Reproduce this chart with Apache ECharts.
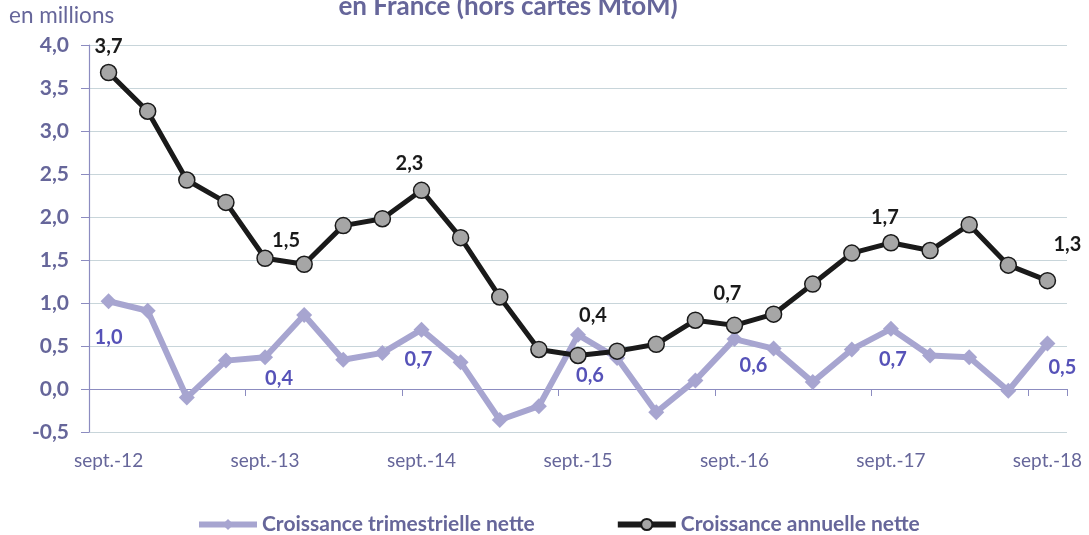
<!DOCTYPE html>
<html>
<head>
<meta charset="utf-8">
<script src="https://cdn.jsdelivr.net/npm/echarts@6/dist/echarts.min.js"></script>
<style>html,body{margin:0;padding:0;background:#fff}#c{width:1089px;height:535px}</style>
</head>
<body>
<div id="c"></div>
<script>
const categories = ['sept.-12','déc.-12','mars-13','juin-13','sept.-13','déc.-13','mars-14','juin-14','sept.-14','déc.-14','mars-15','juin-15','sept.-15','déc.-15','mars-16','juin-16','sept.-16','déc.-16','mars-17','juin-17','sept.-17','déc.-17','mars-18','juin-18','sept.-18'];
const quarterly = [1.02,0.91,-0.10,0.33,0.37,0.86,0.34,0.42,0.69,0.31,-0.36,-0.20,0.63,0.36,-0.27,0.10,0.58,0.47,0.08,0.46,0.70,0.39,0.37,-0.02,0.53];
const annual = [3.68,3.23,2.43,2.17,1.52,1.45,1.90,1.98,2.31,1.76,1.07,0.46,0.39,0.44,0.52,0.80,0.74,0.87,1.22,1.58,1.70,1.61,1.91,1.44,1.26];
const yTicks = [-0.5,0,0.5,1,1.5,2,2.5,3,3.5,4];

// label placement (styling only)
const annualLabelOffsets = {0:[0,-26],4:[21,-18],8:[-12,-27],12:[15,-40],16:[-7,-32],20:[-6,-25],24:[20,-36]};
const quarterLabelOffsets = {0:[0,36],4:[14,21],8:[-3,30],12:[12,41],16:[19,26],20:[2,31],24:[15,24]};

const axisColor = '#66669a';
const FONT = 'Lato, "Open Sans", sans-serif';
const fmt = v => v.toFixed(1).replace('.', ',');

function buildData(values, offsets, color) {
  return values.map((v, i) => {
    if (offsets[i]) {
      return {value: v, label: {show: true, position: 'inside', offset: offsets[i],
        formatter: p => fmt(p.value), color: color, fontSize: 20, fontWeight: 'bold', fontFamily: FONT}};
    }
    return v;
  });
}

const chart = echarts.init(document.getElementById('c'), null, {renderer: 'canvas'});
chart.setOption({
  animation: false,
  grid: {left: 89, right: 22, top: 45, bottom: 103, containLabel: false},
  graphic: [
    {type: 'text', x: 9, y: 16, style: {text: 'en millions', fill: axisColor, font: '22.5px ' + FONT, textVerticalAlign: 'middle'}},
    {type: 'text', x: 508, y: 7, style: {text: 'en France (hors cartes MtoM)', fill: axisColor, font: 'bold 26px ' + FONT, textAlign: 'center', textVerticalAlign: 'middle'}}
  ],
  legend: {
    top: 509, left: 191, itemWidth: 58, itemHeight: 14, itemGap: 80,
    textStyle: {color: axisColor, fontSize: 21, fontWeight: 'bold', fontFamily: FONT},
    lineStyle: {width: 6},
    data: ['Croissance trimestrielle nette', 'Croissance annuelle nette']
  },
  xAxis: [
    {type: 'category', data: categories, boundaryGap: true, position: 'bottom',
      axisLine: {show: false, onZero: false}, axisTick: {show: false},
      axisLabel: {interval: 3, color: axisColor, fontSize: 19, fontFamily: FONT, margin: 19}},
    {type: 'category', data: categories, boundaryGap: true, position: 'top',
      axisLine: {show: true, onZero: true, lineStyle: {color: '#8c8cc0', width: 1.2}},
      axisTick: {show: true, interval: 3, inside: true, length: 7, lineStyle: {color: '#8c8cc0'}},
      axisLabel: {show: false}}
  ],
  yAxis: {
    type: 'value', min: -0.5, max: 4, interval: 0.5,
    axisLine: {show: true, lineStyle: {color: '#8c8cc0', width: 1.2}},
    axisTick: {show: true, length: 8, lineStyle: {color: '#8c8cc0'}},
    axisLabel: {color: axisColor, fontSize: 21, fontWeight: 'bold', fontFamily: FONT, margin: 20,
      formatter: v => yTicks.includes(v) ? fmt(v) : ''},
    splitLine: {show: true, lineStyle: {color: '#c8d5da', width: 1}}
  },
  series: [
    {name: 'Croissance trimestrielle nette', type: 'line', xAxisIndex: 0,
      data: buildData(quarterly, quarterLabelOffsets, '#5652b8'),
      symbol: 'diamond', symbolSize: 16,
      lineStyle: {color: '#a7a5d0', width: 6},
      itemStyle: {color: '#a7a5d0', borderWidth: 0},
      z: 2},
    {name: 'Croissance annuelle nette', type: 'line', xAxisIndex: 0,
      data: buildData(annual, annualLabelOffsets, '#1a1a1a'),
      symbol: 'circle', symbolSize: 16,
      lineStyle: {color: '#1a1a1a', width: 5},
      itemStyle: {color: '#a6a6a6', borderColor: '#1a1a1a', borderWidth: 1.5},
      z: 3}
  ]
});
</script>
</body>
</html>
